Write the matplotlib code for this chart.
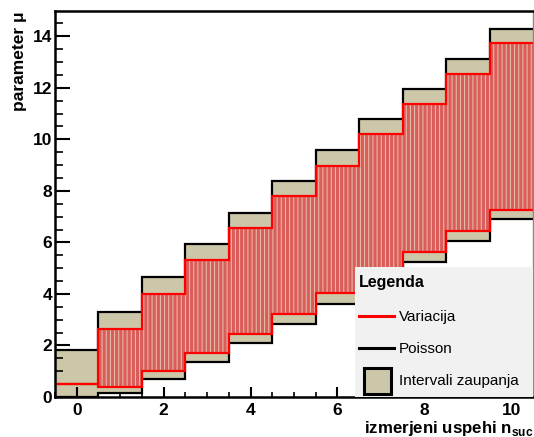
import numpy as np
import matplotlib
matplotlib.use("Agg")
import matplotlib.pyplot as plt
from matplotlib.patches import Rectangle
from matplotlib.lines import Line2D
from matplotlib.ticker import MultipleLocator

plt.rcParams['font.family'] = ['Liberation Sans', 'DejaVu Sans']
plt.rcParams['mathtext.fontset'] = 'custom'
plt.rcParams['mathtext.bf'] = 'Liberation Sans:bold'
plt.rcParams['mathtext.rm'] = 'Liberation Sans'
plt.rcParams['hatch.linewidth'] = 0.7

# Data
n_suc = [0, 1, 2, 3, 4, 5, 6, 7, 8, 9, 10]
poisson_low = [0.0, 0.17, 0.71, 1.37, 2.09, 2.84, 3.62, 4.42, 5.23, 6.06, 6.89]
poisson_up = [1.84, 3.30, 4.64, 5.92, 7.16, 8.38, 9.58, 10.77, 11.95, 13.11, 14.27]
var_low = [0.5, 0.38, 1.00, 1.70, 2.44, 3.21, 4.02, 4.81, 5.62, 6.45, 7.26]
var_up = [0.5, 2.62, 4.00, 5.30, 6.56, 7.79, 8.98, 10.19, 11.38, 12.55, 13.74]

beige = '#cdc7a9'
red_face = '#db5d5a'
stripe = '#e6c4b0'

fig = plt.figure(figsize=(5.34, 4.37), dpi=100)
ax = fig.add_axes([55/534, 1 - 397/437, 478/534, 386/437])

edges = np.arange(len(n_suc) + 1) - 0.5

# Poisson confidence band
ax.stairs(poisson_up, edges, baseline=poisson_low, fill=True, color=beige, lw=0, zorder=1)
ax.stairs(poisson_up, edges, baseline=None, color='black', lw=1.6, zorder=2)
ax.stairs(poisson_low, edges, baseline=None, color='black', lw=1.6, zorder=2)

# Variation band (hatched red)
ax.stairs(var_up, edges, baseline=var_low, fill=True, facecolor=red_face, edgecolor='none', lw=0, zorder=3)
ax.stairs(var_up, edges, baseline=var_low, fill=True, facecolor='none', edgecolor=stripe,
          hatch='||||', lw=0, zorder=3.5)
ax.stairs(var_up, edges, baseline=None, color='#ff0000', lw=1.6, zorder=4)
ax.stairs(var_low, edges, baseline=None, color='#ff0000', lw=1.6, zorder=4)

ax.set_xlim(-0.5, 10.5)
ax.set_ylim(0, 14.98)

ax.xaxis.set_major_locator(MultipleLocator(2))
ax.xaxis.set_minor_locator(MultipleLocator(0.5))
ax.yaxis.set_major_locator(MultipleLocator(2))
ax.yaxis.set_minor_locator(MultipleLocator(0.5))

ax.tick_params(axis='x', which='major', direction='in', length=7.5, width=1.5, pad=4, labelsize=12.5)
ax.tick_params(axis='x', which='minor', direction='in', length=3.8, width=1.2)
ax.tick_params(axis='y', which='major', direction='in', length=10.5, width=1.5, pad=2, labelsize=12.5)
ax.tick_params(axis='y', which='minor', direction='in', length=5.4, width=1.2)
for lab in ax.get_xticklabels() + ax.get_yticklabels():
    lab.set_fontweight('bold')
for t in ax.xaxis.get_major_ticks() + ax.xaxis.get_minor_ticks() + ax.yaxis.get_major_ticks() + ax.yaxis.get_minor_ticks():
    t.tick1line.set_zorder(6)

for s in ['left', 'bottom', 'top']:
    ax.spines[s].set_linewidth(1.8)
    ax.spines[s].set_color('black')
ax.spines['right'].set_linewidth(1.0)
ax.spines['right'].set_color('#888888')
for s in ax.spines.values():
    s.set_zorder(7)

ty = lambda py: 1 - py / 437
tx = lambda px: px / 534

# Axis titles
fig.text(tx(20), ty(11), 'parameter μ', fontsize=12.5, fontweight='bold', rotation=90,
         ha='center', va='top')
fig.text(tx(533), ty(433), r'izmerjeni uspehi n$_{\mathbf{suc}}$', fontsize=12.2, fontweight='bold',
         ha='right', va='baseline')

# Legend box
leg_x0, leg_y0 = 355/534, 1 - 397/437
leg_w, leg_h = 178/534, 130/437
fig.patches.append(Rectangle((leg_x0, leg_y0), leg_w, leg_h, transform=fig.transFigure,
                             facecolor='#f1f1f1', edgecolor='none', zorder=10))
fig.text(tx(359), ty(283), 'Legenda', fontsize=11.5, fontweight='bold', va='center', ha='left', zorder=11)
fig.add_artist(Line2D([tx(359), tx(394)], [ty(316), ty(316)], color='#ff0000', lw=2.2, zorder=11))
fig.text(tx(399), ty(317), 'Variacija', fontsize=11, va='center', ha='left', zorder=11)
fig.add_artist(Line2D([tx(359), tx(394)], [ty(348), ty(348)], color='black', lw=2.2, zorder=11))
fig.text(tx(399), ty(349), 'Poisson', fontsize=11, va='center', ha='left', zorder=11)
fig.patches.append(Rectangle((tx(364), ty(394)), 27/534, 26/437, transform=fig.transFigure,
                             facecolor=beige, edgecolor='black', lw=2.2, zorder=11))
fig.text(tx(399), ty(381), 'Intervali zaupanja', fontsize=11, va='center', ha='left', zorder=11)

fig.savefig('out.png', dpi=100)
